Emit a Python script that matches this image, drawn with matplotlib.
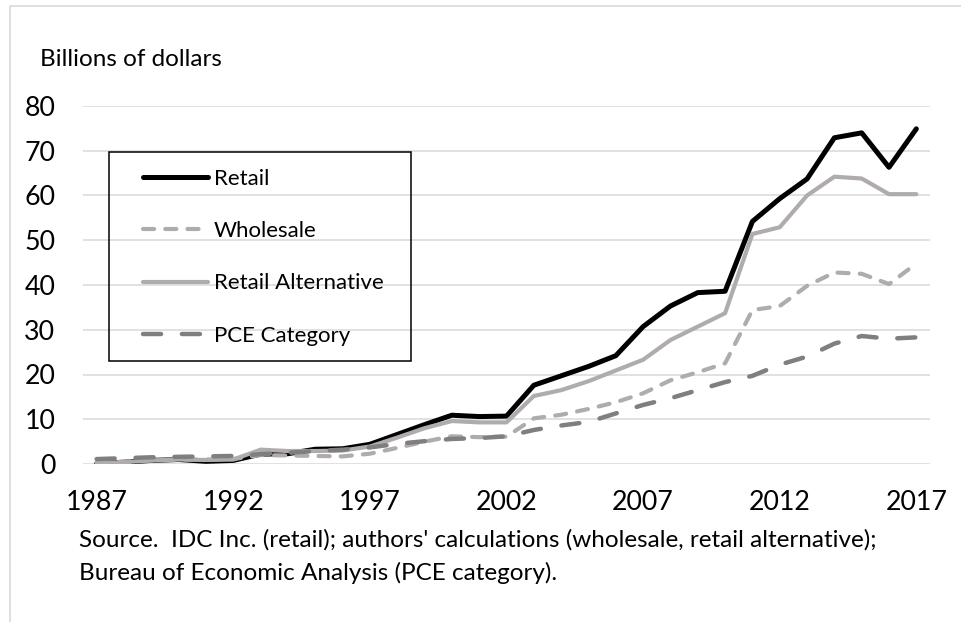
import matplotlib
matplotlib.use("Agg")
import matplotlib.pyplot as plt
from matplotlib.lines import Line2D
from matplotlib.patches import Rectangle

plt.rcParams['font.family'] = ['Lato', 'DejaVu Sans']
plt.rcParams['lines.scale_dashes'] = False

# Data (billions of dollars)
years = list(range(1987, 2018))
retail = [0.1, 0.4, 0.8, 1.0, 0.6, 0.8, 2.2, 2.3, 3.3, 3.4, 4.4, 6.6, 8.8, 10.9,
          10.6, 10.7, 17.6, 19.7, 21.8, 24.2, 30.7, 35.3, 38.3, 38.6, 54.2, 59.3,
          63.7, 72.9, 74.0, 66.3, 74.9]
wholesale = [0.3, 0.5, 0.8, 1.0, 1.0, 1.1, 2.0, 1.9, 1.8, 1.7, 2.3, 3.6, 5.0, 6.2,
             6.0, 6.1, 10.2, 11.0, 12.3, 13.8, 15.8, 18.7, 20.5, 22.5, 34.4, 35.3,
             39.8, 42.8, 42.5, 40.2, 44.8]
retail_alt = [0.2, 0.4, 0.8, 1.0, 0.9, 1.0, 3.2, 2.9, 2.9, 3.0, 3.9, 5.9, 8.0, 9.6,
              9.3, 9.3, 15.2, 16.5, 18.5, 20.9, 23.3, 27.7, 30.7, 33.7, 51.4, 52.9,
              60.0, 64.2, 63.8, 60.3, 60.3]
pce = [1.1, 1.3, 1.5, 1.6, 1.7, 1.8, 2.2, 2.5, 2.9, 3.2, 3.7, 4.5, 5.1, 5.6,
       5.8, 6.2, 7.6, 8.6, 9.4, 11.3, 13.2, 14.7, 16.5, 18.3, 19.7, 22.2,
       24.0, 26.9, 28.6, 28.0, 28.3]

xticks = [1987, 1992, 1997, 2002, 2007, 2012, 2017]
yticks = [0, 10, 20, 30, 40, 50, 60, 70, 80]

W, H = 961, 622
fig = plt.figure(figsize=(W / 100, H / 100), dpi=100)
ax = fig.add_axes([83 / W, 1 - 464 / H, (930 - 83) / W, (464 - 106) / H])

light = '#b0acac'
dark = '#7f7f7f'
common = dict(solid_capstyle='round', dash_capstyle='round', solid_joinstyle='round')
l1, = ax.plot(years, retail, color='black', lw=3.6, label='Retail', **common)
l2, = ax.plot(years, wholesale, color=light, lw=3.0, dashes=(8, 8), label='Wholesale', **common)
l3, = ax.plot(years, retail_alt, color=light, lw=3.0, label='Retail Alternative', **common)
l4, = ax.plot(years, pce, color=dark, lw=3.2, dashes=(13, 15), label='PCE Category', **common)

ax.set_xlim(1986.5, 2017.5)
ax.set_ylim(0, 80)
ax.set_xticks(xticks)
ax.set_yticks(yticks)
ax.tick_params(axis='x', length=0, pad=19, labelsize=19.3)
ax.tick_params(axis='y', length=0, pad=20, labelsize=19.3)
for s in ax.spines.values():
    s.set_visible(False)
ax.grid(axis='y', color='#d9d9d9', lw=1.1)
ax.set_axisbelow(True)

# legend without frame, then a box drawn around it
leg = fig.legend(handles=[l1, l2, l3, l4], loc='upper left',
                 bbox_to_anchor=(143 / W, 1 - 169 / H), bbox_transform=fig.transFigure,
                 frameon=False, fontsize=16, handlelength=2.93, handletextpad=0.27,
                 labelspacing=1.45, borderpad=0, borderaxespad=0)
fig.add_artist(Rectangle((109 / W, 1 - 361 / H), (411 - 109) / W, (361 - 152) / H,
                         transform=fig.transFigure, fill=False, ec='black', lw=1.1))

fig.text(40 / W, 1 - 60 / H, 'Billions of dollars', fontsize=17.5, va='center', ha='left')
fig.text(79 / W, 1 - 540 / H,
         "Source.  IDC Inc. (retail); authors' calculations (wholesale, retail alternative);",
         fontsize=17.5, va='center', ha='left')
fig.text(79 / W, 1 - 573 / H, "Bureau of Economic Analysis (PCE category).",
         fontsize=17.5, va='center', ha='left')

# outer frame (top and left edges)
fig.add_artist(Line2D([10 / W, 10 / W, 1], [0, 1 - 6 / H, 1 - 6 / H],
                      transform=fig.transFigure, color='#d9d9d9', lw=1.2))

fig.savefig('out.png', dpi=100)
